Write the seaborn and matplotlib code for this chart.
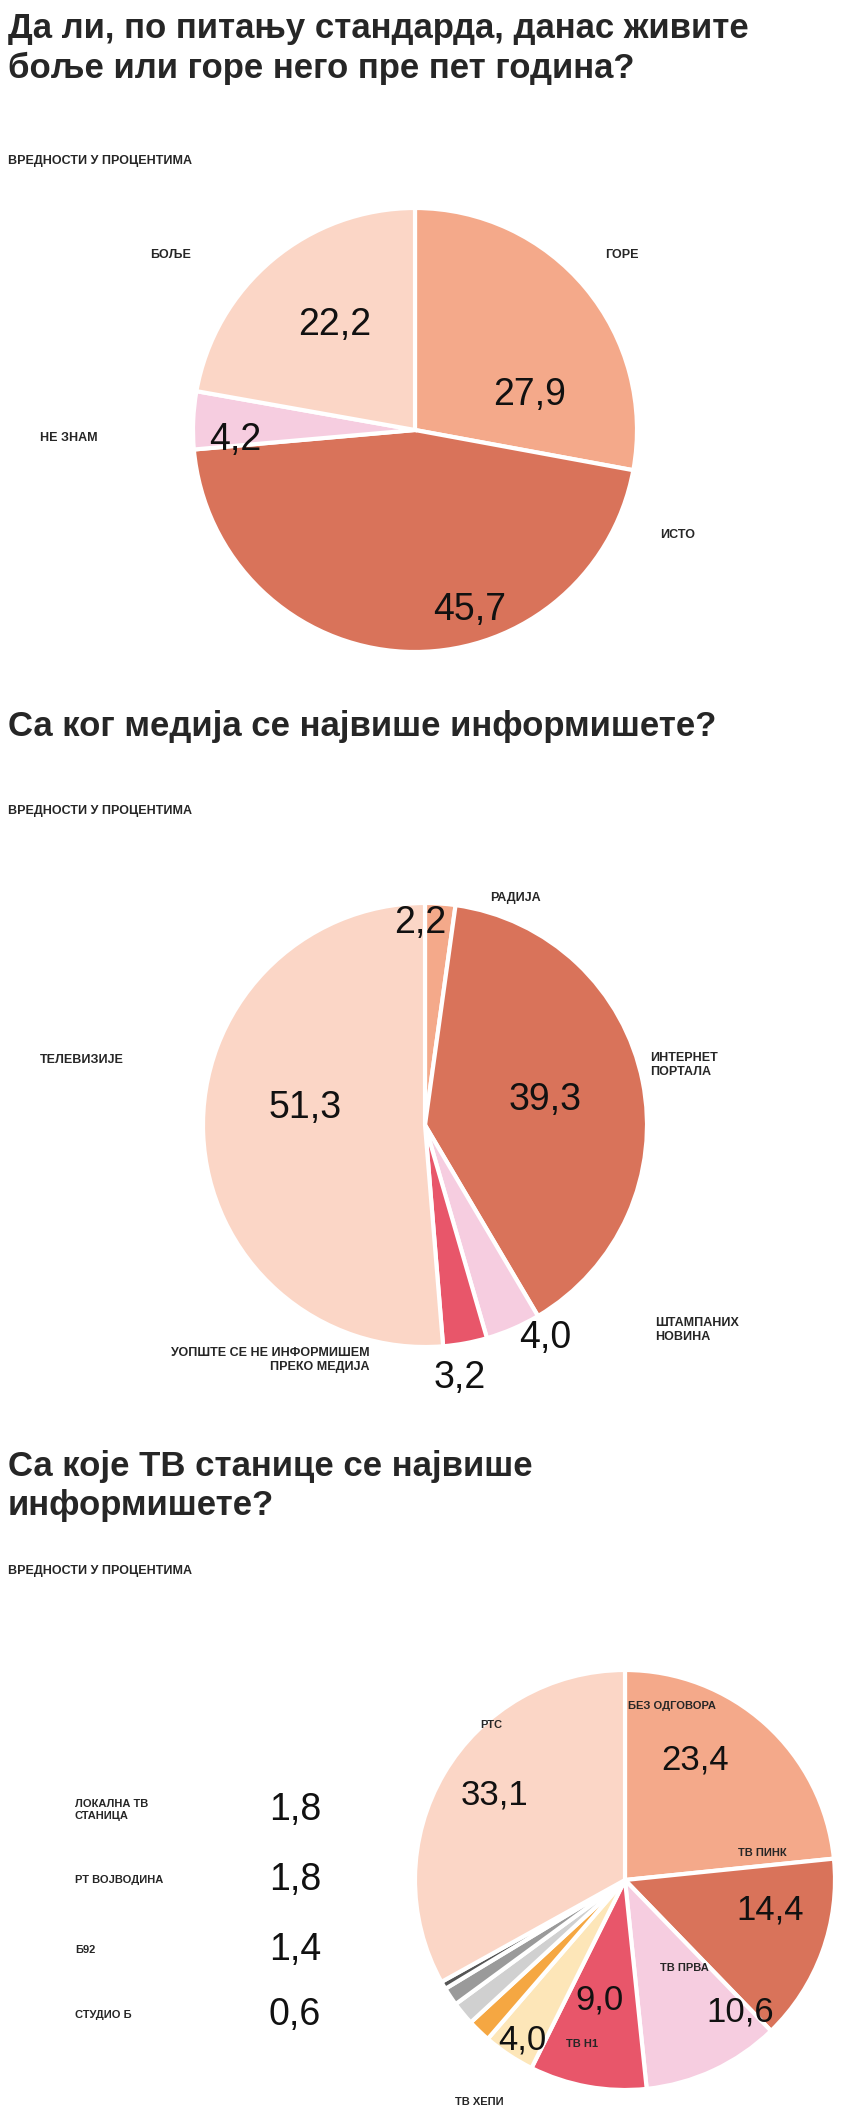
import matplotlib.pyplot as plt
import seaborn as sns

sns.set_theme(style="white")
plt.rcParams['font.family'] = ['Liberation Sans Narrow', 'Liberation Sans', 'DejaVu Sans']

# Пита 1: стандард
std_labels = ['ГОРЕ', 'ИСТО', 'НЕ ЗНАМ', 'БОЉЕ']
std_values = [27.9, 45.7, 4.2, 22.2]
std_colors = ['#f4a98a', '#d9735a', '#f6cde0', '#fbd6c6']

# Пита 2: медији
med_labels = ['РАДИЈА', 'ИНТЕРНЕТ\nПОРТАЛА', 'ШТАМПАНИХ\nНОВИНА',
              'УОПШТЕ СЕ НЕ ИНФОРМИШЕМ\nПРЕКО МЕДИЈА', 'ТЕЛЕВИЗИЈЕ']
med_values = [2.2, 39.3, 4.0, 3.2, 51.3]
med_colors = ['#f4a98a', '#d9735a', '#f6cde0', '#e8566a', '#fbd6c6']

# Пита 3: ТВ станице
tv_labels = ['БЕЗ ОДГОВОРА', 'ТВ ПИНК', 'ТВ ПРВА', 'ТВ Н1', 'ТВ ХЕПИ',
             'ЛОКАЛНА ТВ\nСТАНИЦА', 'РТ ВОЈВОДИНА', 'Б92', 'СТУДИО Б', 'РТС']
tv_values = [23.4, 14.4, 10.6, 9.0, 4.0, 1.8, 1.8, 1.4, 0.6, 33.1]
tv_colors = ['#f4a98a', '#d9735a', '#f6cde0', '#e8566a', '#fde6b8',
             '#f5a742', '#d0d0d0', '#9a9a9a', '#555555', '#fbd6c6']

H = 2122
fig = plt.figure(figsize=(8.5, 21.22), dpi=100)
ax = fig.add_axes([0, 0, 1, 1])
ax.set_xlim(0, 850)
ax.set_ylim(0, H)
ax.set_aspect('equal')
ax.axis('off')


def fmt(v):
    return f'{v:.1f}'.replace('.', ',')


def title(y, txt):
    ax.text(8, H - y, txt, fontsize=25, fontweight='bold', va='top', ha='left', linespacing=1.25)


def sub(y):
    ax.text(8, H - y, 'ВРЕДНОСТИ У ПРОЦЕНТИМА', fontsize=9, fontweight='bold', va='top', ha='left')


def draw_pie(vals, cols, cx, cy, r):
    ax.pie(vals, colors=cols, startangle=90, counterclock=False, center=(cx, H - cy), radius=r,
           wedgeprops=dict(edgecolor='white', linewidth=3), frame=True)


def lab(x, y, txt, size=9, ha='left'):
    ax.text(x, H - y, txt, fontsize=size, fontweight='bold', ha=ha, va='center', linespacing=1.2)


def num(x, y, v, size=27):
    ax.text(x, H - y, fmt(v), fontsize=size, ha='center', va='center', color='#111111')


# --- 1 ---
title(12, 'Да ли, по питању стандарда, данас живите\nбоље или горе него пре пет година?')
sub(155)
draw_pie(std_values, std_colors, 415, 430, 222)
num(530, 395, std_values[0])
num(470, 610, std_values[1])
num(235, 440, std_values[2])
num(335, 325, std_values[3])
lab(605, 255, std_labels[0])
lab(660, 535, std_labels[1])
lab(40, 438, std_labels[2])
lab(150, 255, std_labels[3])

# --- 2 ---
title(710, 'Са ког медија се највише информишете?')
sub(805)
draw_pie(med_values, med_colors, 425, 1125, 222)
num(420, 923, med_values[0])
num(545, 1100, med_values[1])
num(545, 1338, med_values[2])
num(460, 1378, med_values[3])
num(305, 1108, med_values[4])
lab(490, 898, med_labels[0])
lab(650, 1065, med_labels[1])
lab(655, 1330, med_labels[2])
lab(370, 1360, med_labels[3], ha='right')
lab(40, 1060, med_labels[4])

# --- 3 ---
title(1450, 'Са које ТВ станице се највише\nинформишете?')
sub(1565)
draw_pie(tv_values, tv_colors, 625, 1880, 210)
num(695, 1760, tv_values[0], 25)
num(770, 1910, tv_values[1], 25)
num(740, 2012, tv_values[2], 25)
num(600, 2000, tv_values[3], 25)
num(522, 2040, tv_values[4], 25)
num(495, 1795, tv_values[9], 25)
lab(628, 1706, tv_labels[0], size=8)
lab(738, 1853, tv_labels[1], size=8)
lab(660, 1968, tv_labels[2], size=8)
lab(566, 2044, tv_labels[3], size=8)
lab(455, 2102, tv_labels[4], size=8)
lab(480, 1725, tv_labels[9], size=8)
for i, yy in enumerate([1810, 1880, 1950, 2015]):
    lab(75, yy, tv_labels[5 + i], size=8)
    ax.text(295, H - yy, fmt(tv_values[5 + i]), fontsize=27, ha='center', va='center', color='#111111')

fig.savefig('out.png', dpi=100, facecolor='white')
